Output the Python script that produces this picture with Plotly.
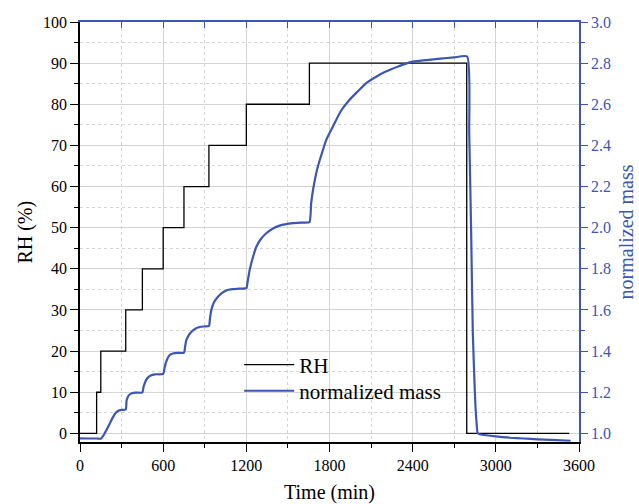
import plotly.graph_objects as go

# ---- data ----
rh_time = [0, 120, 150, 330, 450, 600, 750, 930, 1200, 1655, 2790, 3530]
rh_vals = [0, 10, 20, 30, 40, 50, 60, 70, 80, 90, 0, 0]

mass_time = [0, 60, 120, 150, 170, 190, 215, 238, 258, 276, 300, 330,
             336, 346, 358, 375, 400, 450,
             458, 466, 478, 490, 510, 540, 600,
             608, 618, 632, 646, 670, 710, 750,
             758, 767, 785, 803, 830, 863, 900, 930,
             938, 947, 965, 995, 1025, 1055, 1100, 1150, 1200,
             1210, 1224, 1245, 1272, 1305, 1344, 1390, 1440, 1536, 1600, 1655,
             1668, 1681, 1716, 1777, 1825, 1880, 1945, 2000, 2065, 2140, 2210,
             2300, 2378, 2500, 2600, 2700, 2793,
             2808, 2822, 2834, 2851, 2860, 2870, 2900, 3000, 3100, 3200, 3300,
             3400, 3540]
mass_vals = [0.976, 0.975, 0.975, 0.974, 0.99, 1.015, 1.048, 1.079, 1.100, 1.110, 1.114, 1.116,
             1.16, 1.178, 1.189, 1.195, 1.198, 1.199,
             1.225, 1.242, 1.260, 1.271, 1.281, 1.287, 1.289,
             1.31, 1.34, 1.365, 1.380, 1.388, 1.391, 1.392,
             1.42, 1.453, 1.478, 1.493, 1.508, 1.517, 1.520, 1.522,
             1.56, 1.599, 1.635, 1.664, 1.683, 1.695, 1.701, 1.704, 1.706,
             1.74, 1.794, 1.85, 1.907, 1.945, 1.973, 1.995, 2.010, 2.022, 2.025, 2.027,
             2.12, 2.183, 2.297, 2.427, 2.492, 2.565, 2.622, 2.66, 2.703, 2.735, 2.760,
             2.785, 2.804, 2.815, 2.822, 2.828, 2.832,
             2.46, 1.974, 1.487, 1.161, 1.06, 1.0, 0.993, 0.985, 0.979, 0.975, 0.971,
             0.968, 0.964]

x_ticks = [0, 600, 1200, 1800, 2400, 3000, 3600]
rh_ticks = [0, 10, 20, 30, 40, 50, 60, 70, 80, 90, 100]
mass_ticks = [1.0, 1.2, 1.4, 1.6, 1.8, 2.0, 2.2, 2.4, 2.6, 2.8, 3.0]

BLUE = "#3b56b5"
FONT = "Liberation Serif, Times New Roman, serif"
GRID = "#d4d4d4"

fig = go.Figure()
fig.add_trace(go.Scatter(x=rh_time, y=rh_vals, mode="lines", line_shape="hv",
                         line=dict(color="black", width=1.3), name="RH",
                         xaxis="x", yaxis="y", legend="legend"))
fig.add_trace(go.Scatter(x=mass_time, y=mass_vals, mode="lines",
                         line=dict(color=BLUE, width=2.2, shape="spline", smoothing=0.5),
                         name="normalized mass",
                         xaxis="x", yaxis="y2", legend="legend2"))
# dummy trace to register top axis
fig.add_trace(go.Scatter(x=[None], y=[None], xaxis="x2", yaxis="y",
                         showlegend=False, hoverinfo="skip"))

leg_common = dict(xanchor="left", yanchor="top", bgcolor="rgba(0,0,0,0)",
                  font=dict(size=21, family=FONT), itemwidth=50)

fig.update_layout(
    width=639, height=504,
    margin=dict(l=80, r=60, t=22, b=62),
    paper_bgcolor="white", plot_bgcolor="white",
    font=dict(family=FONT, size=16, color="black"),
    showlegend=True,
    legend=dict(x=0.319, y=0.232, **leg_common),
    legend2=dict(x=0.319, y=0.170, **leg_common),
    xaxis=dict(range=[0, 3600], tickvals=x_ticks, ticks="outside", ticklen=8,
               tickwidth=1.3, tickcolor="black",
               showline=True, linecolor="black", linewidth=1.6,
               showgrid=True, gridcolor=GRID, gridwidth=1, zeroline=False,
               minor=dict(dtick=300, ticks="outside", ticklen=4, tickcolor="black",
                          showgrid=True, gridcolor=GRID, griddash="dot"),
               tickfont=dict(size=16, family=FONT, color="black")),
    xaxis2=dict(range=[0, 3600], overlaying="x", side="top", anchor="y",
                showline=True, linecolor=BLUE, linewidth=1.6,
                ticks="inside", dtick=300, tick0=0, ticklen=6, tickwidth=1.3,
                tickcolor=BLUE, showticklabels=False, showgrid=False, zeroline=False),
    yaxis=dict(range=[-2.1, 100], tickvals=rh_ticks, ticks="outside", ticklen=8,
               tickwidth=1.3, tickcolor="black",
               showline=True, linecolor="black", linewidth=1.6,
               showgrid=True, gridcolor=GRID, gridwidth=1, zeroline=False,
               minor=dict(dtick=5, ticks="outside", ticklen=4, tickcolor="black",
                          showgrid=True, gridcolor=GRID, griddash="dot"),
               tickfont=dict(size=16, family=FONT, color="black")),
    yaxis2=dict(range=[0.958, 3.0], overlaying="y", side="right", anchor="x",
                tickvals=mass_ticks, ticktext=[f"{v:.1f}" for v in mass_ticks],
                ticks="outside", ticklen=7, tickwidth=1.3, tickcolor=BLUE,
                showline=True, linecolor=BLUE, linewidth=1.6,
                showgrid=False, zeroline=False,
                minor=dict(dtick=0.1, tick0=1.0, ticks="outside", ticklen=4,
                           tickcolor=BLUE, showgrid=False),
                tickfont=dict(size=16, family=FONT, color=BLUE)),
    annotations=[
        dict(text="RH (%)", xref="paper", yref="paper", x=-0.111, y=0.5,
             textangle=-90, showarrow=False, xanchor="center", yanchor="middle",
             font=dict(size=20, family=FONT, color="black")),
        dict(text="Time (min)", xref="paper", yref="paper", x=0.5, y=-0.12,
             showarrow=False, xanchor="center", yanchor="middle",
             font=dict(size=20, family=FONT, color="black")),
        dict(text="normalized mass", xref="paper", yref="paper", x=1.095, y=0.5,
             textangle=-90, showarrow=False, xanchor="center", yanchor="middle",
             font=dict(size=20, family=FONT, color=BLUE)),
    ],
)

fig.write_html("out.html")
